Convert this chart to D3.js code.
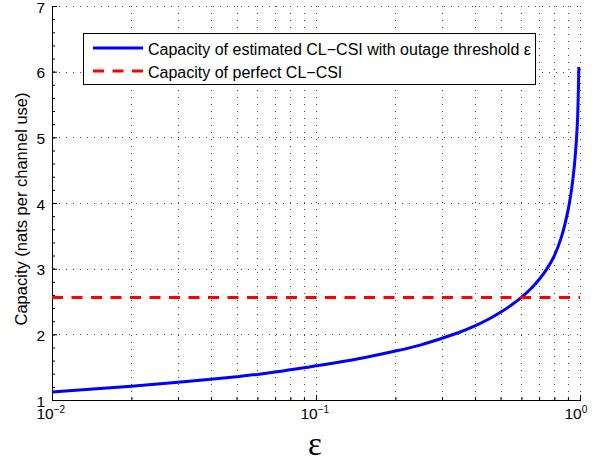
<!DOCTYPE html>
<html>
<head>
<meta charset="utf-8">
<script src="https://cdn.jsdelivr.net/npm/d3@7"></script>
<style>
  body { margin: 0; background: #fff; }
  svg { display: block; }
  text { font-family: "Liberation Sans", Arial, Helvetica, sans-serif; fill: #000; }
</style>
</head>
<body>
<div id="chart"></div>
<script>
// outage threshold and capacity
const epsilon = [0.01, 0.02, 0.03, 0.04, 0.05, 0.06, 0.07, 0.08, 0.09, 0.1,
    0.15, 0.2, 0.25, 0.3, 0.35, 0.4, 0.45, 0.5, 0.55, 0.6, 0.65, 0.7, 0.75,
    0.8, 0.85, 0.9, 0.93, 0.95, 0.97, 0.98, 0.99];
const capacityEstimated = [1.12, 1.21, 1.27, 1.315, 1.355, 1.39, 1.425, 1.46, 1.49, 1.52,
    1.64, 1.745, 1.84, 1.94, 2.032, 2.128, 2.229, 2.335, 2.447, 2.564, 2.69, 2.835, 3.0,
    3.2, 3.48, 3.88, 4.22, 4.53, 4.98, 5.33, 6.07];
const capacityPerfect = 2.56;

const xMajorTicks = [0.01, 0.1, 1];
const xTickExponents = ["\u22122", "\u22121", "0"];
const xMinorTicks = [0.02, 0.03, 0.04, 0.05, 0.06, 0.07, 0.08, 0.09,
    0.2, 0.3, 0.4, 0.5, 0.6, 0.7, 0.8, 0.9];
const yTicks = [1, 2, 3, 4, 5, 6, 7];
const yMinorTicks = d3.range(1, 7.001, 0.2);

const legendLabels = [
    "Capacity of estimated CL\u2212CSI with outage threshold \u03b5",
    "Capacity of perfect CL\u2212CSI"
];

const margin = {top: 6, left: 52, bottom: 64, right: 30};
const fullWidth = 610;
const fullHeight = 464;
const width = fullWidth - margin.left - margin.right;
const height = fullHeight - margin.top - margin.bottom;

const x = d3.scaleLog().domain([0.01, 1]).range([0, width]);
const y = d3.scaleLinear().domain([1, 7]).range([height, 0]);

const svg = d3.select("#chart").append("svg")
    .attr("width", fullWidth)
    .attr("height", fullHeight)
    .append("g")
    .attr("transform", `translate(${margin.left},${margin.top})`);

// dotted grid
const grid = svg.append("g")
    .attr("stroke", "#000")
    .attr("stroke-width", 1)
    .attr("stroke-dasharray", "1,6")
    .attr("opacity", 0.7);

grid.selectAll(".vgrid")
    .data(xMinorTicks.concat(xMajorTicks.slice(1)))
    .join("line")
    .attr("x1", d => Math.round(x(d)) + 0.5)
    .attr("x2", d => Math.round(x(d)) + 0.5)
    .attr("y1", 0)
    .attr("y2", height);

grid.selectAll(".hgrid")
    .data(yTicks.slice(1))
    .join("line")
    .attr("x1", 0)
    .attr("x2", width)
    .attr("y1", d => Math.round(y(d)) + 0.5)
    .attr("y2", d => Math.round(y(d)) + 0.5);

// axes, ticks pointing inward
const xAxis = d3.axisBottom(x).tickValues(xMajorTicks).tickSize(-5).tickFormat("");
const xAxisMinor = d3.axisBottom(x).tickValues(xMinorTicks).tickSize(-3).tickFormat("");
const yAxis = d3.axisLeft(y).tickValues(yTicks).tickSize(-5).tickFormat("");
const yAxisMinor = d3.axisLeft(y).tickValues(yMinorTicks).tickSize(-3).tickFormat("");

[xAxis, xAxisMinor].forEach(ax => {
    svg.append("g")
        .attr("class", "x axis")
        .attr("transform", `translate(0,${height})`)
        .call(ax)
        .call(g => g.select(".domain").attr("stroke", "#000"));
});

[yAxis, yAxisMinor].forEach(ax => {
    svg.append("g")
        .attr("class", "y axis")
        .call(ax)
        .call(g => g.select(".domain").attr("stroke", "#000"));
});

// tick labels
svg.selectAll(".ylabel")
    .data(yTicks)
    .join("text")
    .attr("x", -7)
    .attr("y", d => y(d))
    .attr("dy", "0.42em")
    .attr("text-anchor", "end")
    .style("font-size", "15.5px")
    .text(d => d);

const xLabels = svg.selectAll(".xlabel")
    .data(xMajorTicks)
    .join("text")
    .attr("x", d => x(d) - 15.5)
    .attr("y", height + 19)
    .style("font-size", "15.5px");
xLabels.append("tspan").text("10");
xLabels.append("tspan")
    .attr("dy", -6)
    .style("font-size", "10px")
    .text((d, i) => xTickExponents[i]);

// axis titles
svg.append("text")
    .attr("transform", `translate(-25,${height / 2 + 6}) rotate(-90)`)
    .attr("text-anchor", "middle")
    .style("font-size", "16.5px")
    .text("Capacity (nats per channel use)");

svg.append("text")
    .attr("x", width / 2 - 1)
    .attr("y", height + 55)
    .attr("text-anchor", "middle")
    .style("font-family", "'Liberation Serif', 'DejaVu Serif', serif")
    .style("font-size", "33px")
    .text("\u03b5");

// data lines
const line = d3.line()
    .x((d, i) => x(epsilon[i]))
    .y(d => y(d))
    .curve(d3.curveCatmullRom.alpha(0.5));

svg.append("path")
    .attr("d", line(capacityEstimated))
    .attr("fill", "none")
    .attr("stroke", "#0000ff")
    .attr("stroke-width", 3);

svg.append("line")
    .attr("x1", x(0.01))
    .attr("x2", x(1))
    .attr("y1", y(capacityPerfect))
    .attr("y2", y(capacityPerfect))
    .attr("stroke", "#ff0000")
    .attr("stroke-width", 3)
    .attr("stroke-dasharray", "11,8.5");

// legend
const legend = svg.append("g")
    .attr("transform", "translate(31,27)");

legend.append("rect")
    .attr("x", 0.5)
    .attr("y", 0.5)
    .attr("width", 452)
    .attr("height", 51)
    .attr("fill", "#fff")
    .attr("stroke", "#000")
    .attr("stroke-width", 1);

const legendStyles = [
    {color: "#0000ff", dash: null},
    {color: "#ff0000", dash: "11,8.5"}
];

legendLabels.forEach((label, i) => {
    const ly = 15 + i * 23;
    legend.append("line")
        .attr("x1", 10)
        .attr("x2", 60)
        .attr("y1", ly)
        .attr("y2", ly)
        .attr("stroke", legendStyles[i].color)
        .attr("stroke-width", 3)
        .attr("stroke-dasharray", legendStyles[i].dash);
    legend.append("text")
        .attr("x", 65)
        .attr("y", ly + 6.5)
        .style("font-size", "16px")
        .text(label);
});
</script>
</body>
</html>
